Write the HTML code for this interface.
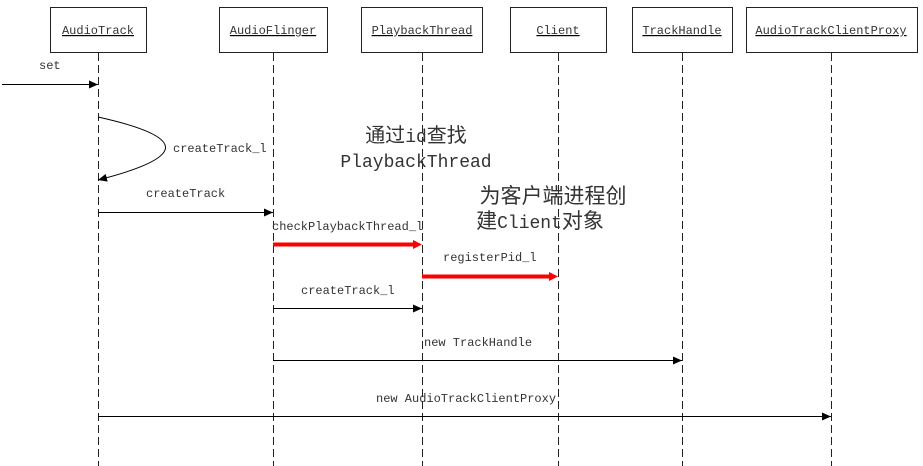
<!DOCTYPE html>
<html><head><meta charset="utf-8"><style>
html,body{margin:0;padding:0;background:#fff;}
svg{display:block;}
text{font-family:"Liberation Mono","Noto Sans CJK SC",monospace;fill:#333;}
</style></head><body>
<svg width="923" height="466" viewBox="0 0 923 466" xmlns="http://www.w3.org/2000/svg">
<defs>
<marker id="ab" markerWidth="10" markerHeight="10" refX="9" refY="5" orient="auto" markerUnits="userSpaceOnUse"><path d="M0,1 L9,5 L0,9 Z" fill="#000"/></marker>
</defs>
<g fill="#fff" stroke="#222" stroke-width="1">
<rect x="50.5" y="7.5" width="96" height="45"/>
<rect x="219.5" y="7.5" width="108" height="45"/>
<rect x="361.5" y="7.5" width="121" height="45"/>
<rect x="510.5" y="7.5" width="96" height="45"/>
<rect x="632.5" y="7.5" width="100" height="45"/>
<rect x="746.5" y="7.5" width="171" height="45"/>
</g>
<g font-size="12" text-anchor="middle" text-decoration="underline">
<text x="98" y="34">AudioTrack</text>
<text x="273" y="34">AudioFlinger</text>
<text x="422" y="34">PlaybackThread</text>
<text x="558" y="34">Client</text>
<text x="682" y="34">TrackHandle</text>
<text x="831" y="34">AudioTrackClientProxy</text>
</g>
<g stroke="#222" stroke-width="1" stroke-dasharray="8,4">
<line x1="98.5" y1="53" x2="98.5" y2="466"/>
<line x1="273.5" y1="53" x2="273.5" y2="466"/>
<line x1="422.5" y1="53" x2="422.5" y2="466"/>
<line x1="558.5" y1="53" x2="558.5" y2="466"/>
<line x1="682.5" y1="53" x2="682.5" y2="466"/>
<line x1="831.5" y1="53" x2="831.5" y2="466"/>
</g>
<g stroke="#000" stroke-width="1" fill="none">
<line x1="2" y1="84.5" x2="98" y2="84.5" marker-end="url(#ab)"/>
<path d="M98,117 C188,137 188,157 98,180" marker-end="url(#ab)"/>
<line x1="98" y1="212.5" x2="273" y2="212.5" marker-end="url(#ab)"/>
<line x1="273" y1="308.5" x2="422" y2="308.5" marker-end="url(#ab)"/>
<line x1="273" y1="360.5" x2="682" y2="360.5" marker-end="url(#ab)"/>
<line x1="98" y1="416.5" x2="831" y2="416.5" marker-end="url(#ab)"/>
</g>
<g stroke="#f00" stroke-width="4" fill="none">
<line x1="273" y1="244.5" x2="414" y2="244.5"/>
<line x1="422" y1="276.5" x2="550" y2="276.5"/>
</g>
<path d="M413,240 L422,244.5 L413,249 Z" fill="#f00"/>
<path d="M549,272 L558,276.5 L549,281 Z" fill="#f00"/>
<g font-size="12">
<text x="39" y="69">set</text>
<text x="173" y="152">createTrack_l</text>
<text x="146" y="197">createTrack</text>
<text x="272" y="230">checkPlaybackThread_l</text>
<text x="443" y="261">registerPid_l</text>
<text x="301" y="294">createTrack_l</text>
<text x="424" y="346">new TrackHandle</text>
<text x="376" y="402">new AudioTrackClientProxy</text>
</g>
<g font-size="18" text-anchor="middle">
<text x="416" y="142"><tspan font-size="20">通过</tspan>id<tspan font-size="20">查找</tspan></text>
<text x="416" y="167">PlaybackThread</text>
<text x="553" y="203" font-size="21">为客户端进程创</text>
<text x="540" y="228"><tspan font-size="21">建</tspan>Client<tspan font-size="21">对象</tspan></text>
</g>
</svg>
</body></html>
